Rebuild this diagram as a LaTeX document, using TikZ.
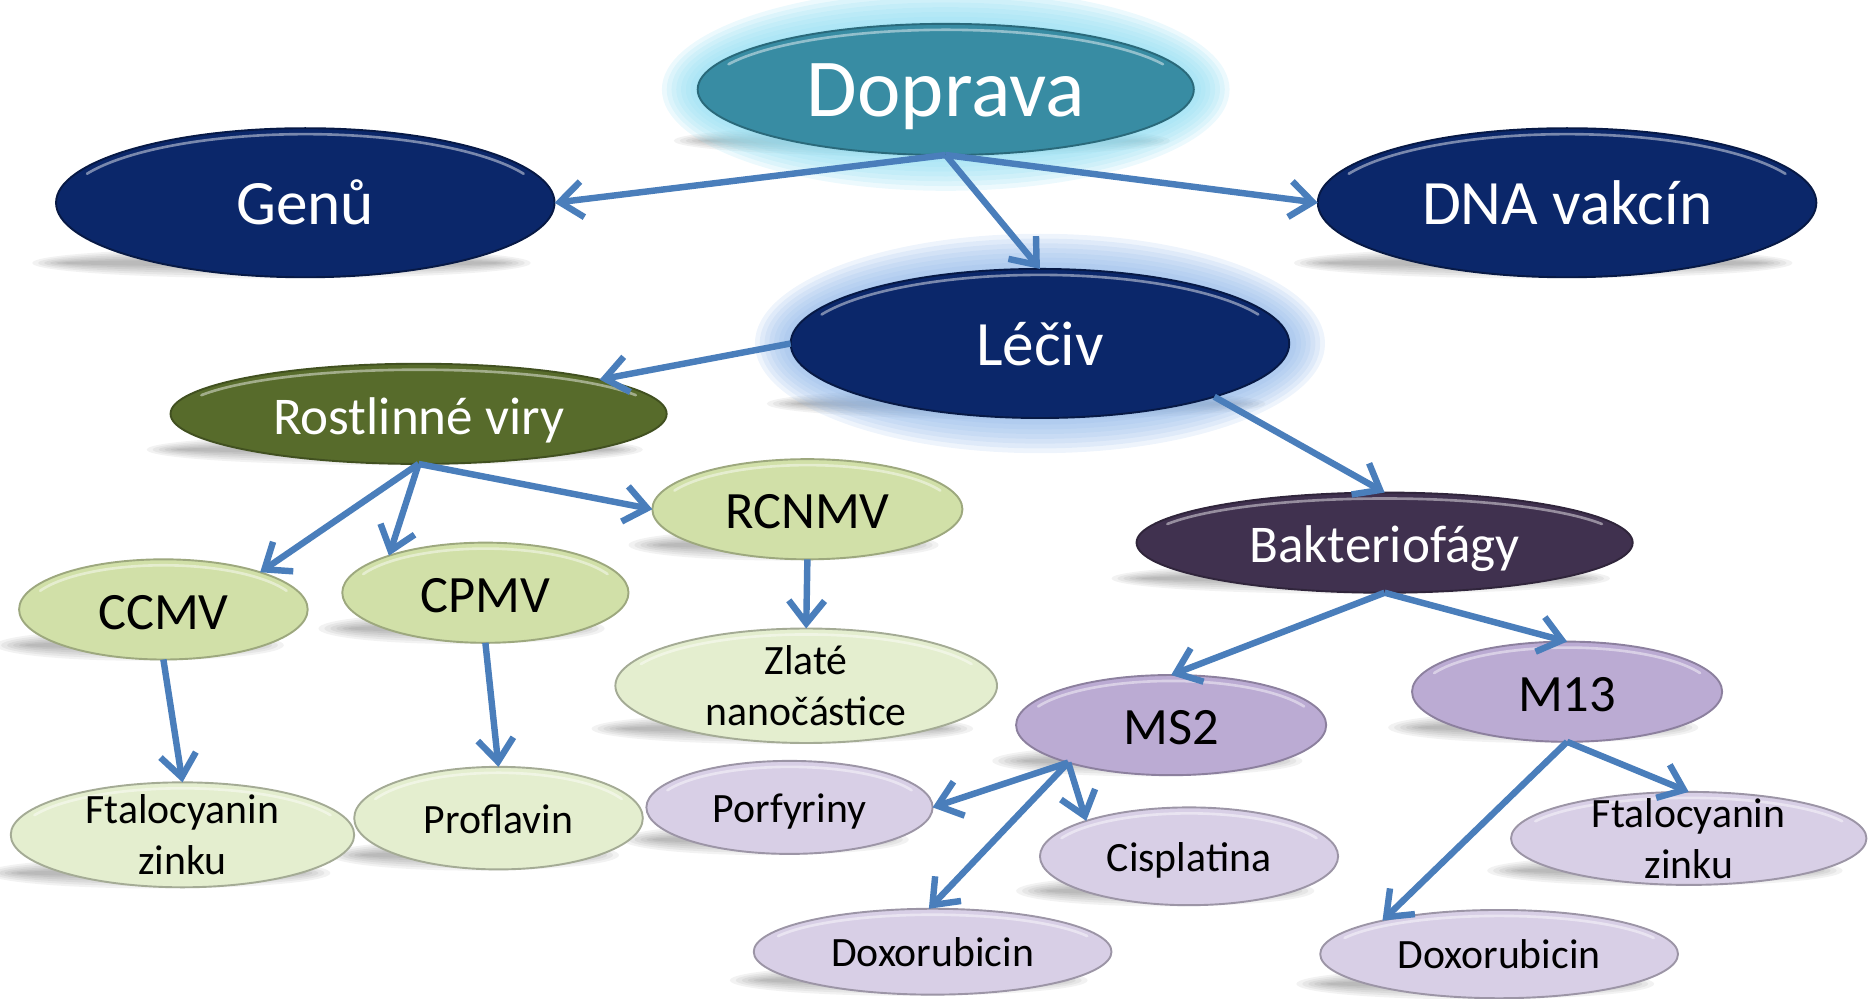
\documentclass[tikz,border=0pt]{standalone}
\usepackage{fontspec}
\setmainfont{Carlito}
\usetikzlibrary{arrows.meta,positioning,shapes.geometric,calc}
\definecolor{tealc}{HTML}{388CA3}
\definecolor{tealglow}{HTML}{8FDDF2}
\definecolor{navyc}{HTML}{0B276A}
\definecolor{navyglow}{HTML}{8CB4E8}
\definecolor{olivec}{HTML}{576B2B}
\definecolor{plumc}{HTML}{40314F}
\definecolor{grnc}{HTML}{D1E0A8}
\definecolor{ltgrnc}{HTML}{E4EECF}
\definecolor{lilc}{HTML}{BBABD3}
\definecolor{ltlilc}{HTML}{D8CFE6}
\definecolor{arrc}{HTML}{4A7EBB}
\tikzset{
  glossline/.style={draw=white, opacity=.45, line width=2.2pt, line cap=round},
  gloss/.style={path picture={
    \draw[glossline]
      let \p1=($(path picture bounding box.north east)-(path picture bounding box.center)$)
      in (path picture bounding box.center) ++(155:{\x1-7pt} and {\y1-5pt})
      arc[start angle=155, end angle=25, x radius=\x1-7pt, y radius=\y1-5pt];}},
  bub/.style={ellipse, inner xsep=0pt, inner ysep=-8pt, outer sep=0pt,
    line width=1.6pt, gloss},
  topbub/.style={bub, fill=tealc, draw=tealc!75!black, text=white,
    minimum width=416pt, minimum height=110pt, text height=46pt, text depth=0pt,
    font=\fontsize{69}{80}\selectfont},
  bigbub/.style={bub, fill=navyc, draw=navyc!65!black, text=white,
    minimum width=418pt, minimum height=125pt, text height=37pt, text depth=0pt,
    font=\fontsize{53}{62}\selectfont},
  midbub/.style={bub, text=white, minimum width=416pt, minimum height=84pt,
    text height=34pt, text depth=0pt, font=\fontsize{44.5}{52}\selectfont},
  grnbub/.style={bub, fill=grnc, draw=grnc!75!black, minimum height=84pt,
    text height=33pt, text depth=0pt, font=\fontsize{44}{52}\selectfont},
  lilbub/.style={bub, fill=lilc, draw=lilc!75!black, minimum height=84pt,
    text height=33pt, text depth=0pt, font=\fontsize{44}{52}\selectfont},
  leafg/.style={bub, fill=ltgrnc, draw=ltgrnc!72!black,
    font=\fontsize{35}{43}\selectfont},
  leafl/.style={bub, fill=ltlilc, draw=ltlilc!72!black,
    font=\fontsize{35}{43}\selectfont},
  one/.style={text height=25pt, text depth=0pt},
  arr/.style={draw=arrc, line width=5.4pt,
    -{Straight Barb[length=19pt,width=30pt]}},
  sdw/.style={fill=black, opacity=.05}
}
\pgfdeclarelayer{background}
\pgfsetlayers{background,main}

\begin{document}
\begin{tikzpicture}[x=1pt,y=-1pt]
\useasboundingbox (0,0) rectangle (1568,837);

% top
\node[topbub] (dop) at (793,75) {Doprava};
\node[bigbub] (gen) at (256,170) {Genů};
\node[bigbub] (dna) at (1314,170) {DNA vakcín};
\node[bigbub] (lec) at (872,288) {Léčiv};

% second row
\node[midbub, fill=olivec, draw=olivec!75!black] (rv) at (351,347) {Rostlinné viry};
\node[midbub, fill=plumc, draw=plumc!75!black] (bak) at (1161,455) {Bakteriofágy};

% viruses
\node[grnbub, minimum width=242pt] (ccmv) at (137,511) {CCMV};
\node[grnbub, minimum width=240pt] (cpmv) at (407,497) {CPMV};
\node[grnbub, minimum width=260pt] (rcn) at (677,427) {RCNMV};
\node[lilbub, minimum width=260pt] (ms2) at (982,608) {MS2};
\node[lilbub, minimum width=260pt] (m13) at (1314,580) {M13};

% cargo
\node[leafg, align=center, minimum width=320pt, minimum height=96pt] (zl) at (676,575) {Zlaté\\nanočástice};
\node[leafg, align=center, minimum width=288pt, minimum height=88pt] (ftl) at (153,700) {Ftalocyanin\\zinku};
\node[leafg, one, minimum width=242pt, minimum height=86pt] (pro) at (418,686) {Proflavin};
\node[leafl, one, minimum width=240pt, minimum height=78pt] (por) at (662,677) {Porfyriny};
\node[leafl, one, minimum width=250pt, minimum height=82pt] (cis) at (997,718) {Cisplatina};
\node[leafl, align=center, minimum width=298pt, minimum height=78pt] (ftr) at (1416,703) {Ftalocyanin\\zinku};
\node[leafl, one, minimum width=300pt, minimum height=72pt] (dox1) at (782,798) {Doxorubicin};
\node[leafl, one, minimum width=300pt, minimum height=74pt] (dox2) at (1257,800) {Doxorubicin};

% shadows and glows
\begin{pgfonlayer}{background}
\foreach \n/\a in {dop/208,gen/209,dna/209,lec/209,rv/208,bak/209,
  ccmv/121,cpmv/120,rcn/130,ms2/130,m13/130,zl/160,ftl/144,pro/121,
  por/120,cis/125,ftr/149,dox1/150,dox2/150}{
  \foreach \k in {0,...,5}
    \fill[sdw] ([xshift=-20pt,yshift=12pt]\n.south) ellipse ({\a-5*\k} and {13-2*\k});
}
\foreach \k in {0,...,7}{
  \fill[tealglow, opacity=.17] (dop.center) ellipse ({210+4*\k} and {57+4*\k});
  \fill[navyglow, opacity=.15] (lec.center) ellipse ({211+4*\k} and {64+4*\k});
}
\end{pgfonlayer}

% arrows
\draw[arr] (dop.south) -- (gen.east);
\draw[arr] (dop.south) -- (dna.west);
\draw[arr] (dop.south) -- (lec.north);
\draw[arr] (lec.west) -- (rv);
\draw[arr] (lec.343) -- (bak.north);
\draw[arr] (rv.south) -- (ccmv.21);
\draw[arr] (rv.south) -- (cpmv.159);
\draw[arr] (rv.south) -- (rcn.west);
\draw[arr] (rcn.south) -- (zl.north);
\draw[arr] (ccmv.south) -- (ftl.north);
\draw[arr] (cpmv.south) -- (pro.north);
\draw[arr] (bak.south) -- (ms2.north);
\draw[arr] (bak.south) -- (m13.north);
\draw[arr] (ms2.200) -- (por.east);
\draw[arr] (ms2.200) -- (cis.161);
\draw[arr] (ms2.200) -- (dox1.95);
\draw[arr] (m13.south) -- (ftr.north);
\draw[arr] (m13.south) -- (dox2.164);

\end{tikzpicture}
\end{document}
